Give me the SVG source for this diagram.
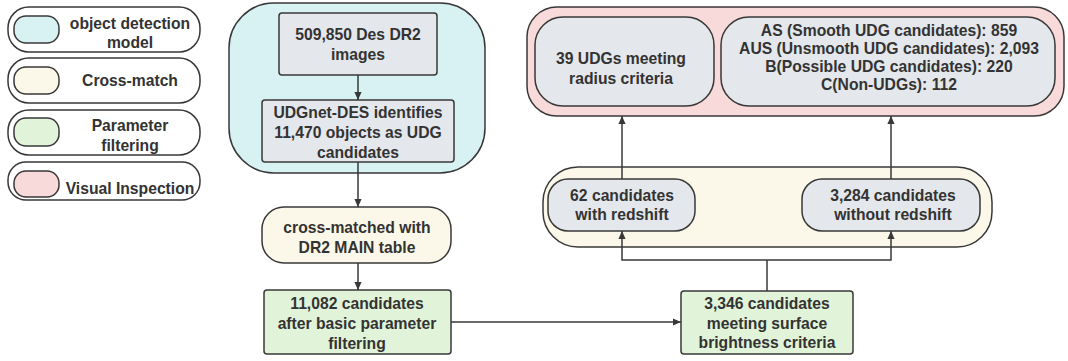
<svg xmlns="http://www.w3.org/2000/svg" width="1068" height="361" viewBox="0 0 1068 361">
<defs>
<style>
text{font-family:"Liberation Sans",Arial,sans-serif;font-weight:bold;font-size:15.7px;fill:#333;text-anchor:middle}
.s{stroke:#383838;stroke-width:1.5}
.blue{fill:#d8f2f4}
.cream{fill:#fcf8e9}
.green{fill:#e1f4d9}
.pink{fill:#f9dada}
.gray{fill:#e4e7eb}
.white{fill:#ffffff}
.c{fill:none;stroke:#383838;stroke-width:1.5}
</style>
<marker id="ah" viewBox="0 0 10 10" refX="10" refY="5" markerWidth="8" markerHeight="8" markerUnits="userSpaceOnUse" orient="auto">
<path d="M0,0.5 L10,5 L0,9.5 z" fill="#383838"/>
</marker>
</defs>

<g id="legend">
<g id="legend-detection">
<rect class="s white" x="8" y="7" width="192" height="45" rx="21"/>
<rect class="s blue" x="14" y="16" width="45" height="27" rx="12"/>
<text x="130" y="29">object detection</text>
<text x="130" y="48">model</text>
</g>
<g id="legend-crossmatch">
<rect class="s white" x="8" y="58" width="192" height="45" rx="21"/>
<rect class="s cream" x="14" y="67" width="45" height="27" rx="12"/>
<text x="130" y="86">Cross-match</text>
</g>
<g id="legend-param">
<rect class="s white" x="8" y="110" width="192" height="45" rx="21"/>
<rect class="s green" x="14" y="118" width="45" height="28" rx="12"/>
<text x="130" y="131">Parameter</text>
<text x="130" y="151">filtering</text>
</g>
<g id="legend-visual">
<rect class="s white" x="8" y="162" width="192" height="38" rx="18"/>
<rect class="s pink" x="14" y="171" width="45" height="26" rx="12"/>
<text x="130" y="194">Visual Inspection</text>
</g>
</g>

<g id="group-detection">
<rect class="s blue" x="229" y="3" width="256" height="170" rx="45"/>
</g>
<g id="group-crossmatch">
<rect class="s cream" x="543" y="167" width="449" height="80" rx="35"/>
</g>
<g id="group-visual">
<rect class="s pink" x="527" y="7" width="537" height="109" rx="30"/>
</g>

<g id="n-images">
<rect class="s gray" x="279" y="13" width="158" height="62" rx="3"/>
<text x="358" y="40">509,850 Des DR2</text>
<text x="358" y="60">images</text>
</g>
<g id="n-udgnet">
<rect class="s gray" x="262" y="100" width="192" height="62" rx="3"/>
<text x="358" y="118">UDGnet-DES identifies</text>
<text x="358" y="138">11,470 objects as UDG</text>
<text x="358" y="158">candidates</text>
</g>
<g id="n-crossmatched">
<rect class="s cream" x="262" y="207" width="189" height="56" rx="22"/>
<text x="357" y="233">cross-matched with</text>
<text x="357" y="253">DR2 MAIN table</text>
</g>
<g id="n-11082">
<rect class="s green" x="264" y="290" width="187" height="64" rx="3"/>
<text x="357" y="309">11,082 candidates</text>
<text x="357" y="329">after basic parameter</text>
<text x="357" y="349">filtering</text>
</g>
<g id="n-3346">
<rect class="s green" x="681" y="291" width="172" height="63" rx="3"/>
<text x="767" y="309">3,346 candidates</text>
<text x="767" y="329">meeting surface</text>
<text x="767" y="348">brightness criteria</text>
</g>
<g id="n-62">
<rect class="s gray" x="548" y="179" width="147" height="52" rx="20"/>
<text x="622" y="201">62 candidates</text>
<text x="622" y="220">with redshift</text>
</g>
<g id="n-3284">
<rect class="s gray" x="802" y="179" width="178" height="52" rx="20"/>
<text x="893" y="201">3,284 candidates</text>
<text x="893" y="220">without redshift</text>
</g>
<g id="n-39">
<rect class="s gray" x="535" y="17" width="179" height="89" rx="28"/>
<text x="621" y="64">39 UDGs meeting</text>
<text x="621" y="84">radius criteria</text>
</g>
<g id="n-classes">
<rect class="s gray" x="721" y="17" width="334" height="89" rx="28"/>
<text x="889" y="36">AS (Smooth UDG candidates): 859</text>
<text x="889" y="54">AUS (Unsmooth UDG candidates): 2,093</text>
<text x="889" y="72">B(Possible UDG candidates): 220</text>
<text x="889" y="90">C(Non-UDGs): 112</text>
</g>

<g id="connectors">
<path class="c" d="M358,75 V100" marker-end="url(#ah)"/>
<path class="c" d="M358,162 V207" marker-end="url(#ah)"/>
<path class="c" d="M358,263 V290" marker-end="url(#ah)"/>
<path class="c" d="M451,322 H681" marker-end="url(#ah)"/>
<path class="c" d="M767,291 V260"/>
<path class="c" d="M767,260 H622 V231" marker-end="url(#ah)"/>
<path class="c" d="M767,260 H891 V231" marker-end="url(#ah)"/>
<path class="c" d="M622,179 V116" marker-end="url(#ah)"/>
<path class="c" d="M891,179 V116" marker-end="url(#ah)"/>
</g>
</svg>
